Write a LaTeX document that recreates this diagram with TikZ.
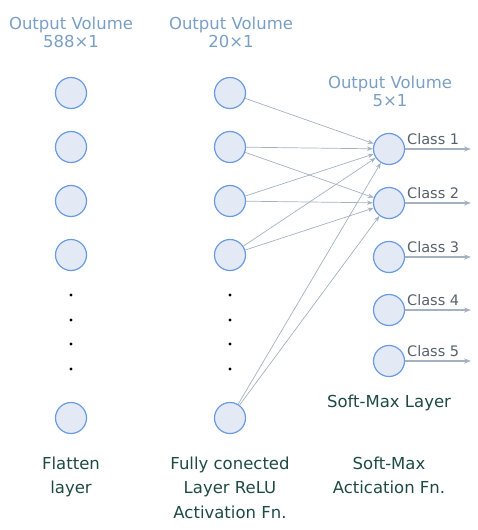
\documentclass[tikz,border=0pt]{standalone}
\usepackage{fontspec}
\setmainfont{DejaVu Sans}
\usepackage{tikz}
\usetikzlibrary{arrows}
\usetikzlibrary{arrows.meta}
\usetikzlibrary{calc}
\definecolor{neuronfill}{HTML}{E3EAF6}
\definecolor{neurondraw}{HTML}{6A9BE2}
\definecolor{volcolor}{HTML}{7A9FC6}
\definecolor{edgecolor}{HTML}{A4B1C3}
\definecolor{classcolor}{HTML}{56616E}
\definecolor{namecolor}{HTML}{1E4A44}
\begin{document}
\begin{tikzpicture}
[x=1pt,y=-1pt,
  nodedecorate/.style={shape=circle,minimum size=31pt,inner sep=0pt,draw=neurondraw,fill=neuronfill,line width=1.2pt},%
  linedecorate/.style={-{Stealth[length=6pt,width=4.5pt]},draw=edgecolor,line width=0.7pt},%
  outdecorate/.style={-{Stealth[length=7pt,width=5pt]},draw=edgecolor,line width=1.1pt},%
  voltext/.style={text=volcolor,font=\fontsize{16.5}{18}\selectfont,align=center},%
  classtext/.style={text=classcolor,font=\fontsize{14.5}{16}\selectfont,anchor=south west,inner sep=0pt},%
  nametext/.style={text=namecolor,font=\fontsize{16.5}{24.5}\selectfont,align=center,anchor=north}]
\useasboundingbox (0,0) rectangle (477,530);
%% titles
\node[voltext] (vol1) at (71,32) {Output Volume\\588×1};
\node[voltext] (vol2) at (231,32) {Output Volume\\20×1};
\node[voltext] (vol3) at (390,91) {Output Volume\\5×1};
%% nodes or vertices
\foreach \nodename/\x/\y in {f1/71/93, f2/71/147, f3/71/201, f4/71/255, f5/71/418,
  h1/230/93, h2/230/147, h3/230/201, h4/230/255, h5/230/418,
  s1/389/149, s2/389/203, s3/389/257, s4/389/310, s5/389/361}
{
  \node (\nodename) at (\x,\y) [nodedecorate] {};
}
%% dots
\foreach \x in {71,230}
  \foreach \y in {295,320,344,369}
  {
    \fill (\x,\y) circle (1.6pt);
  }
%% edges or lines
\path
\foreach \startnode/\endnode in {h1/s1, h2/s1, h2/s2, h3/s1, h3/s2,
  h4/s1, h4/s2, h5/s1, h5/s2}
{
  (\startnode) edge[linedecorate] (\endnode)
};
%% outputs
\foreach \i in {1,...,5}
{
  \coordinate (o\i) at ($(s\i)+(82,0)$);
  \draw[outdecorate] (s\i.east) -- (o\i);
  \node[classtext] at ($(s\i)+(18,-4)$) {Class \i};
}
%% layer names
\node[text=namecolor,font=\fontsize{16.5}{18}\selectfont] (smlayer) at (389,403) {Soft-Max Layer};
\node[nametext] (name1) at (71,453) {Flatten\\layer};
\node[nametext] (name2) at (230,453) {Fully conected\\Layer ReLU\\Activation Fn.};
\node[nametext] (name3) at (389,453) {Soft-Max\\Actication Fn.};
\end{tikzpicture}
\end{document}
